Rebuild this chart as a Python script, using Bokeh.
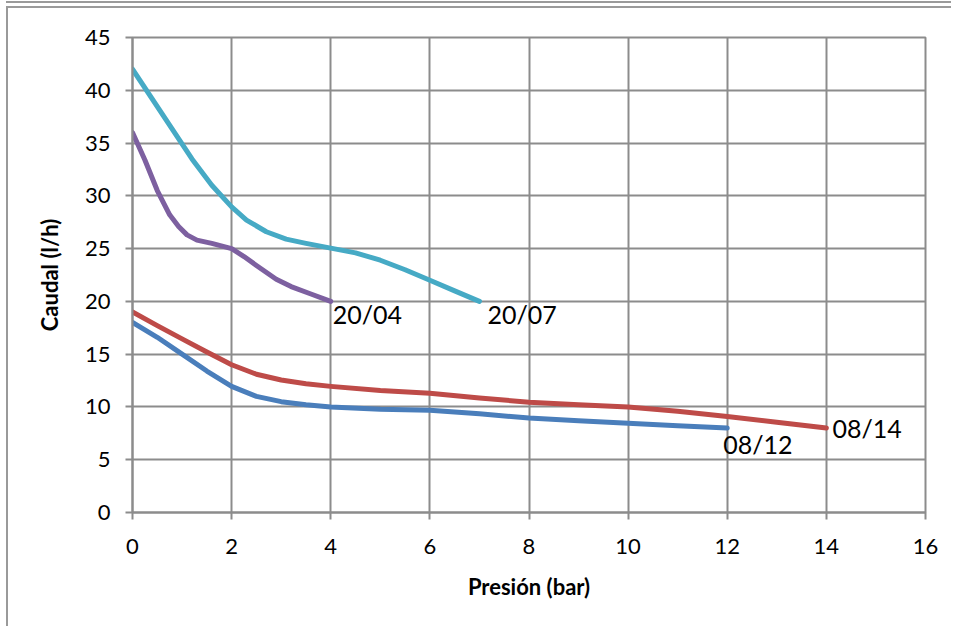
from bokeh.plotting import figure
from bokeh.models import Range1d, FixedTicker
from bokeh.core.properties import value
from bokeh.embed import file_html
from bokeh.resources import INLINE

# ---- data ----
x_0812 = [0, 0.5, 1, 1.5, 2, 2.5, 3, 3.5, 4, 5, 6, 7, 8, 9, 10, 11, 12]
y_0812 = [18.0, 16.6, 15.0, 13.4, 11.95, 11.0, 10.5, 10.2, 10.0, 9.78, 9.68, 9.35, 8.95, 8.7, 8.45, 8.22, 8.0]

x_0814 = [0, 0.5, 1, 1.5, 2, 2.5, 3, 3.5, 4, 5, 6, 7, 8, 9, 10, 11, 12, 13, 14]
y_0814 = [19.0, 17.7, 16.45, 15.2, 14.0, 13.1, 12.55, 12.2, 11.95, 11.55, 11.3, 10.85, 10.45, 10.2, 10.0, 9.6, 9.1, 8.55, 8.0]

x_2004 = [0, 0.25, 0.5, 0.75, 0.93, 1.1, 1.3, 1.6, 2, 2.25, 2.5, 2.9, 3.2, 3.6, 4]
y_2004 = [36.0, 33.4, 30.5, 28.2, 27.1, 26.3, 25.8, 25.5, 25.0, 24.25, 23.4, 22.1, 21.4, 20.7, 20.0]

x_2007 = [0, 1.2, 1.6, 2, 2.3, 2.7, 3.1, 3.5, 4, 4.5, 5, 5.5, 6, 6.5, 7]
y_2007 = [42.0, 33.5, 31.0, 28.95, 27.7, 26.6, 25.9, 25.5, 25.05, 24.6, 23.9, 23.0, 22.0, 21.0, 20.0]

series_names = ["08/12", "08/14", "20/04", "20/07"]
label_x = [12, 14, 4, 7]
label_y = [8, 8, 20, 20]

x_ticks = [0, 2, 4, 6, 8, 10, 12, 14, 16]
y_ticks = [0, 5, 10, 15, 20, 25, 30, 35, 40, 45]

# ---- styling ----
colors = ["#4A7EBB", "#BE4B48", "#7D60A0", "#46AAC5"]
label_dx = [-4, 6, 2, 8]
label_dy = [16, 0, 13, 13]
grid_col = "#8C8C8C"
frame_col = "#9A9A9A"
FONT = "Lato"

p = figure(width=945, height=620, output_backend="svg", toolbar_location=None,
           x_range=Range1d(0, 16), y_range=Range1d(0, 45),
           min_border_left=124, min_border_right=28, min_border_top=29, min_border_bottom=116)
p.styles = {
    "margin-left": "6px",
    "margin-top": "6px",
    "border-left": "2px solid " + frame_col,
    "border-top": "2px solid " + frame_col,
    "box-shadow": "0 -3px 0 0 white, 0 -5px 0 0 " + frame_col,
}

p.outline_line_color = grid_col
p.outline_line_width = 2
p.background_fill_color = "white"
p.border_fill_color = "white"

p.xaxis.ticker = FixedTicker(ticks=x_ticks)
p.yaxis.ticker = FixedTicker(ticks=y_ticks)
p.xgrid.ticker = FixedTicker(ticks=x_ticks)
p.ygrid.ticker = FixedTicker(ticks=y_ticks)
for g in (p.xgrid, p.ygrid):
    g.grid_line_color = grid_col
    g.grid_line_width = 2

for ax in (p.xaxis, p.yaxis):
    ax.axis_line_color = grid_col
    ax.axis_line_width = 2
    ax.major_tick_line_color = grid_col
    ax.major_tick_line_width = 2
    ax.major_tick_out = 7
    ax.major_tick_in = 0
    ax.minor_tick_line_color = None
    ax.major_label_text_font = FONT
    ax.major_label_text_font_size = "22px"
    ax.major_label_text_color = "black"
    ax.axis_label_text_font = FONT
    ax.axis_label_text_font_size = "22px"
    ax.axis_label_text_font_style = "bold"
    ax.axis_label_text_color = "black"

p.xaxis.axis_label = "Presión (bar)"
p.yaxis.axis_label = "Caudal (l/h)"
p.xaxis.major_label_standoff = 19
p.yaxis.major_label_standoff = 15
p.xaxis.axis_label_standoff = 16
p.yaxis.axis_label_standoff = 19

xs = [x_0812, x_0814, x_2004, x_2007]
ys = [y_0812, y_0814, y_2004, y_2007]
for xx, yy, c in zip(xs, ys, colors):
    p.line(xx, yy, line_color=c, line_width=5, line_cap="round", line_join="round")

for i in range(len(series_names)):
    p.text(x=[label_x[i]], y=[label_y[i]], text=[series_names[i]],
           x_offset=label_dx[i], y_offset=label_dy[i],
           text_font=value(FONT), text_font_size="25px", text_color="black",
           text_baseline="middle", text_align="left")

open("out.html", "w").write(file_html(p, INLINE))
